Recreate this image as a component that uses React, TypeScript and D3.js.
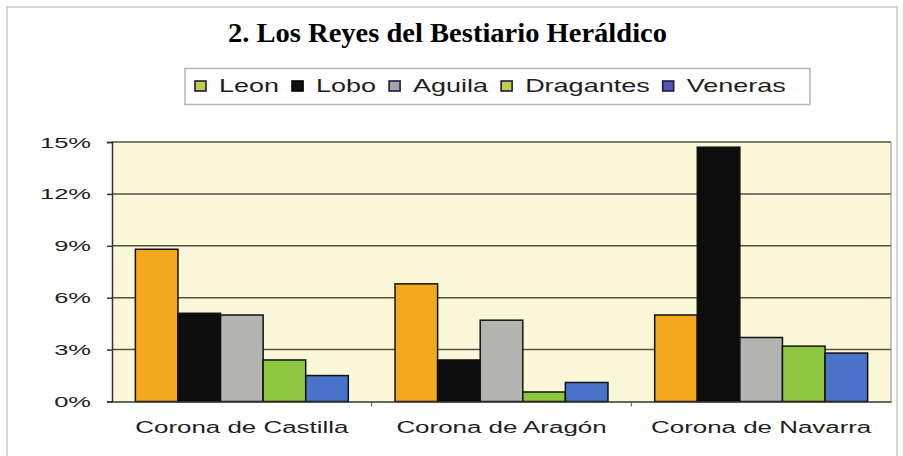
import React, { useRef, useEffect } from "react";
import * as d3 from "d3";

const coronas = ["Corona de Castilla", "Corona de Aragón", "Corona de Navarra"];
const series = ["Leon", "Lobo", "Aguila", "Dragantes", "Veneras"];
const leon = [8.8, 6.8, 5.0];
const lobo = [5.1, 2.4, 14.7];
const aguila = [5.0, 4.7, 3.7];
const dragantes = [2.4, 0.55, 3.2];
const veneras = [1.5, 1.1, 2.8];
const yTicks = [0, 3, 6, 9, 12, 15];

const barColors = ["#f4a81c", "#0d0d0d", "#b3b3b1", "#8dc63f", "#4a72c9"];
const legendColors = ["#c2cd44", "#111111", "#a3a3a3", "#c2cd44", "#5356b4"];

// the chart text in the scan is stretched sideways, so text gets a horizontal scale
const stretchText = (
  parent: d3.Selection<any, any, any, any>,
  x: number,
  y: number,
  sx: number,
  size: number,
  anchor: string,
  label: string
) => {
  const g = parent.append("g").attr("transform", `translate(${x},${y})`);
  return g
    .append("text")
    .attr("transform", `scale(${sx},1)`)
    .attr("text-anchor", anchor)
    .style("font-family", "'Liberation Sans', Arial, sans-serif")
    .style("font-size", `${size}px`)
    .attr("fill", "#1e1e1e")
    .text(label);
};

const App = () => {
  const svgRef = useRef<SVGSVGElement>(null);

  useEffect(() => {
    const svg = d3.select(svgRef.current);
    svg.selectAll("*").remove();

    const width = 903;
    const height = 456;
    const margin = { top: 142, right: 12, bottom: 54.5, left: 112 };

    const values = [leon, lobo, aguila, dragantes, veneras];
    const rows = coronas.map((c, i) => ({
      corona: c,
      vals: series.map((s, j) => ({ key: s, value: values[j][i], idx: j })),
    }));

    // frame
    svg
      .append("rect")
      .attr("x", 7)
      .attr("y", 7)
      .attr("width", 890)
      .attr("height", height)
      .attr("fill", "#fff")
      .attr("stroke", "#c6c6c6")
      .attr("stroke-width", 1.5);

    // title
    svg
      .append("text")
      .attr("x", 447.5)
      .attr("y", 42)
      .attr("text-anchor", "middle")
      .attr("textLength", 439)
      .attr("lengthAdjust", "spacingAndGlyphs")
      .style("font-family", "'Liberation Serif', 'Times New Roman', serif")
      .style("font-weight", "bold")
      .style("font-size", "27px")
      .text("2. Los Reyes del Bestiario Heráldico");

    const x0 = d3
      .scaleBand()
      .domain(coronas)
      .range([margin.left, width - margin.right])
      .paddingInner(0.18)
      .paddingOuter(0.09);
    const x1 = d3.scaleBand().domain(series).range([0, x0.bandwidth()]);
    const y = d3
      .scaleLinear()
      .domain([0, 15])
      .range([height - margin.bottom, margin.top]);

    // plot background
    svg
      .append("rect")
      .attr("x", margin.left)
      .attr("y", margin.top)
      .attr("width", width - margin.right - margin.left)
      .attr("height", height - margin.bottom - margin.top)
      .attr("fill", "#fbf8d9");

    // grid lines
    svg
      .append("g")
      .selectAll("line")
      .data(yTicks.slice(1))
      .enter()
      .append("line")
      .attr("x1", margin.left)
      .attr("x2", width - margin.right)
      .attr("y1", (d) => y(d))
      .attr("y2", (d) => y(d))
      .attr("stroke", "#55533f")
      .attr("stroke-width", 1.5);

    // right border
    svg
      .append("line")
      .attr("x1", width - margin.right)
      .attr("x2", width - margin.right)
      .attr("y1", margin.top)
      .attr("y2", height - margin.bottom)
      .attr("stroke", "#8a8a78")
      .attr("stroke-width", 1);

    // bars
    svg
      .selectAll(".grp")
      .data(rows)
      .enter()
      .append("g")
      .attr("class", "grp")
      .attr("transform", (d) => `translate(${x0(d.corona)},0)`)
      .selectAll("rect")
      .data((d) => d.vals)
      .enter()
      .append("rect")
      .attr("x", (d) => x1(d.key)!)
      .attr("y", (d) => y(d.value))
      .attr("width", x1.bandwidth())
      .attr("height", (d) => y(0) - y(d.value))
      .attr("fill", (d) => barColors[d.idx])
      .attr("stroke", "#111")
      .attr("stroke-width", 1.5);

    // y axis
    const yAxis = d3.axisLeft(y).tickValues(yTicks).tickSize(5).tickFormat(() => "");
    const gy = svg
      .append("g")
      .attr("transform", `translate(${margin.left},0)`)
      .call(yAxis);
    gy.select(".domain").attr("stroke", "#333").attr("stroke-width", 1.5);
    gy.selectAll(".tick line").attr("stroke", "#333").attr("stroke-width", 1.5);
    yTicks.forEach((t) => {
      stretchText(svg, margin.left - 21, y(t) + 5.5, 1.7, 15, "end", `${t}%`);
    });

    // x axis
    const xAxis = d3.axisBottom(x0).tickSize(0).tickFormat(() => "");
    const gx = svg
      .append("g")
      .attr("transform", `translate(0,${height - margin.bottom})`)
      .call(xAxis);
    gx.select(".domain").attr("stroke", "#333").attr("stroke-width", 1.5);
    gx.selectAll(".sep")
      .data(coronas.slice(1))
      .enter()
      .append("line")
      .attr("x1", (d) => x0(d)! - (x0.step() - x0.bandwidth()) / 2)
      .attr("x2", (d) => x0(d)! - (x0.step() - x0.bandwidth()) / 2)
      .attr("y1", 0)
      .attr("y2", 5)
      .attr("stroke", "#555");
    coronas.forEach((c) => {
      stretchText(svg, x0(c)! + x0.bandwidth() / 2, 433, 1.62, 16, "middle", c);
    });

    // legend
    const lg = svg.append("g");
    lg.append("rect")
      .attr("x", 185)
      .attr("y", 68.5)
      .attr("width", 625)
      .attr("height", 36)
      .attr("fill", "#fff")
      .attr("stroke", "#b5b5b5")
      .attr("stroke-width", 1.5);
    let cx = 195;
    series.forEach((s, i) => {
      lg.append("rect")
        .attr("x", cx)
        .attr("y", 81)
        .attr("width", 11)
        .attr("height", 10)
        .attr("fill", legendColors[i])
        .attr("stroke", i === 1 ? "#000" : "#1a1a45")
        .attr("stroke-width", 1.6);
      const t = stretchText(lg, cx + 24, 92, 1.5, 18, "start", s);
      const w = (t.node() as SVGTextElement).getComputedTextLength() * 1.5;
      cx += 24 + w + 13;
    });
  }, []);

  return (
    <svg
      ref={svgRef}
      width={903}
      height={456}
      style={{ position: "absolute", left: 0, top: 0, display: "block" }}
    ></svg>
  );
};

export default App;
